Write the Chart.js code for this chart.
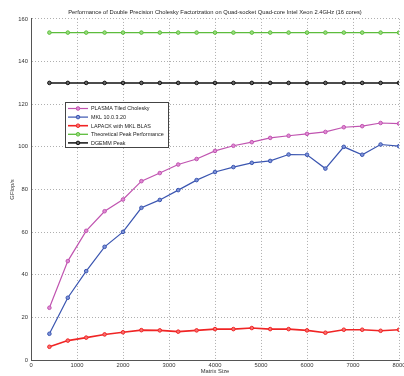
<!DOCTYPE html>
<html>
<head>
<meta charset="utf-8">
<script src="https://cdn.jsdelivr.net/npm/chart.js@4"></script>
<style>
  html, body { margin: 0; padding: 0; background: #fff; }
  #wrap { width: 404px; height: 376px; }
</style>
</head>
<body>
<div id="wrap"><canvas id="chart" width="404" height="376"></canvas></div>
<script>
// matrix sizes (x axis)
const matrixSizes = [400, 800, 1200, 1600, 2000, 2400, 2800, 3200, 3600, 4000,
    4400, 4800, 5200, 5600, 6000, 6400, 6800, 7200, 7600, 8000];

// GFlop/s
const plasma = [24.5, 46.4, 60.6, 69.8, 75.3, 83.9, 87.7, 91.7, 94.3, 98.1,
    100.5, 102.2, 104.2, 105.2, 106.1, 107.0, 109.2, 109.7, 111.2, 110.9];
const mkl = [12.3, 29.2, 41.7, 53.1, 60.1, 71.4, 75.1, 79.7, 84.4, 88.2,
    90.5, 92.5, 93.4, 96.4, 96.3, 89.8, 100.0, 96.3, 101.1, 100.3];
const lapack = [6.2, 9.1, 10.5, 12.0, 13.0, 14.0, 13.9, 13.3, 13.9, 14.5,
    14.5, 15.0, 14.5, 14.5, 13.9, 12.8, 14.2, 14.2, 13.7, 14.2];
const theoreticalPeak = [153.6, 153.6, 153.6, 153.6, 153.6, 153.6, 153.6, 153.6, 153.6, 153.6,
    153.6, 153.6, 153.6, 153.6, 153.6, 153.6, 153.6, 153.6, 153.6, 153.6];
const dgemmPeak = [130, 130, 130, 130, 130, 130, 130, 130, 130, 130,
    130, 130, 130, 130, 130, 130, 130, 130, 130, 130];

const seriesNames = ["PLASMA Tiled Cholesky", "MKL 10.0.3.20", "LAPACK with MKL BLAS",
    "Theoretical Peak Performance", "DGEMM Peak"];
const xTicks = [0, 1000, 2000, 3000, 4000, 5000, 6000, 7000, 8000];
const yTicks = [0, 20, 40, 60, 80, 100, 120, 140, 160];

const FONT = "'Liberation Sans', Arial, sans-serif";
const FS = 5.8;

function toPoints(vals) {
    return matrixSizes.map((s, i) => ({ x: s, y: vals[i] }));
}

function makeSet(label, vals, color, fill, width) {
    return {
        label: label,
        data: toPoints(vals),
        borderColor: color,
        backgroundColor: fill,
        borderWidth: width,
        pointRadius: 1.8,
        pointBorderWidth: 1,
        pointBorderColor: color,
        pointBackgroundColor: fill,
        tension: 0,
    };
}

const datasets = [
    makeSet(seriesNames[0], plasma, "#c054b0", "#e08ad4", 1.2),
    makeSet(seriesNames[1], mkl, "#3a55b0", "#7f93d8", 1.2),
    makeSet(seriesNames[2], lapack, "#f02424", "#f87070", 1.6),
    makeSet(seriesNames[3], theoreticalPeak, "#5cbc3c", "#9ade7e", 1.3),
    makeSet(seriesNames[4], dgemmPeak, "#111111", "#666666", 1.5),
];

// legend box drawn inside the plot, like the matlab figure
const boxLegend = {
    id: "boxLegend",
    afterDraw(chart) {
        const ctx = chart.ctx;
        const x0 = 65, y0 = 102, w = 103, h = 45;
        ctx.save();
        ctx.fillStyle = "#fff";
        ctx.fillRect(x0, y0, w, h);
        ctx.strokeStyle = "#444";
        ctx.lineWidth = 1;
        ctx.strokeRect(x0 + 0.5, y0 + 0.5, w, h);
        ctx.font = "5.4px " + FONT;
        ctx.textBaseline = "middle";
        chart.data.datasets.forEach((ds, i) => {
            const yy = y0 + 6.5 + i * 8.6;
            ctx.strokeStyle = ds.borderColor;
            ctx.lineWidth = ds.borderWidth;
            ctx.beginPath();
            ctx.moveTo(x0 + 3, yy);
            ctx.lineTo(x0 + 23, yy);
            ctx.stroke();
            ctx.beginPath();
            ctx.arc(x0 + 13, yy, 1.8, 0, Math.PI * 2);
            ctx.fillStyle = ds.pointBackgroundColor;
            ctx.fill();
            ctx.lineWidth = 1;
            ctx.stroke();
            ctx.fillStyle = "#222";
            ctx.fillText(ds.label, x0 + 26, yy + 0.5);
        });
        ctx.restore();
    }
};

const ctx = document.getElementById("chart").getContext("2d");
new Chart(ctx, {
    type: "line",
    data: { datasets: datasets },
    plugins: [boxLegend],
    options: {
        responsive: false,
        animation: false,
        layout: { padding: { left: 0, right: 4, top: 0, bottom: 0 } },
        plugins: {
            legend: { display: false },
            tooltip: { enabled: false },
            title: {
                display: true,
                fullSize: false,
                text: "Performance of Double Precision Cholesky Factorization on Quad-socket Quad-core Intel Xeon 2.4GHz (16 cores)",
                color: "#222",
                font: { family: FONT, size: FS, weight: "normal" },
                padding: { top: 9, bottom: 3 },
            },
        },
        scales: {
            x: {
                type: "linear",
                min: 0,
                max: 8000,
                afterBuildTicks(scale) {
                    scale.ticks = xTicks.map(v => ({ value: v }));
                },
                afterFit(scale) {
                    scale.height = 16;
                    scale.paddingLeft = 0;
                    scale.paddingRight = 0;
                },
                ticks: {
                    maxRotation: 0,
                    autoSkip: false,
                    padding: 2,
                    color: "#333",
                    font: { family: FONT, size: FS },
                    callback: v => String(v),
                },
                grid: { color: "#9a9a9a", lineWidth: 0.8, drawTicks: false },
                border: { display: true, color: "#555", width: 1, dash: [1, 2] },
                title: {
                    display: true,
                    text: "Matrix Size",
                    color: "#333",
                    font: { family: FONT, size: FS },
                    padding: { top: 0, bottom: 1 },
                },
            },
            y: {
                min: 0,
                max: 160,
                afterBuildTicks(scale) {
                    scale.ticks = yTicks.map(v => ({ value: v }));
                },
                afterFit(scale) {
                    scale.width = 31;
                },
                ticks: {
                    padding: 3,
                    color: "#333",
                    font: { family: FONT, size: FS },
                    callback: v => String(v),
                },
                grid: { color: "#9a9a9a", lineWidth: 0.8, drawTicks: false },
                border: { display: true, color: "#555", width: 1, dash: [1, 2] },
                title: {
                    display: true,
                    text: "GFlop/s",
                    color: "#333",
                    font: { family: FONT, size: FS },
                    padding: { top: 9, bottom: 0 },
                },
            },
        },
    },
});
</script>
</body>
</html>
